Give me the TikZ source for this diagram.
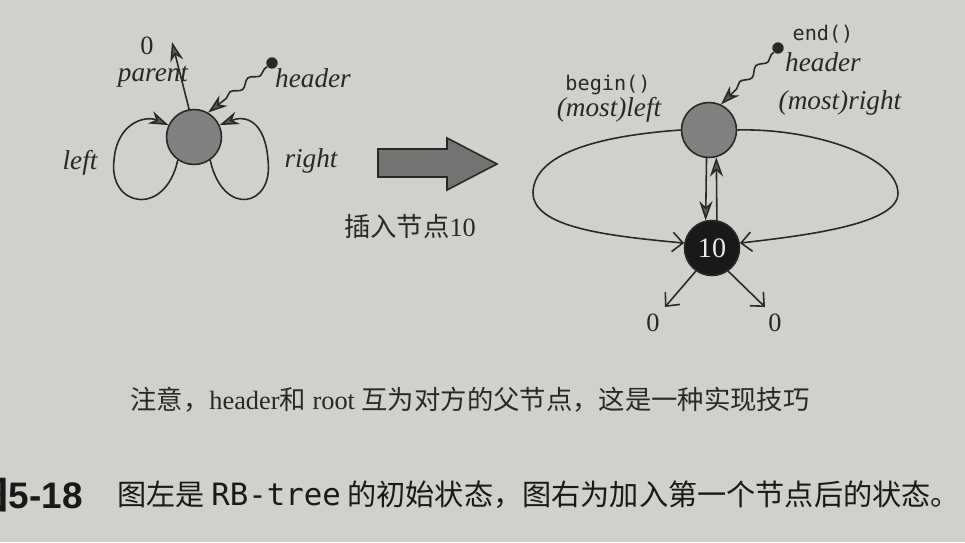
\documentclass[tikz,border=0pt]{standalone}
\usepackage{fontspec}
\setmainfont{Liberation Serif}
\newfontfamily\cjk{Noto Sans CJK SC}
\newfontfamily\codefont{DejaVu Sans Mono}
\newfontfamily\capfont{Liberation Sans}
\usetikzlibrary{arrows.meta,decorations.pathmorphing,calc}
\definecolor{paper}{RGB}{208,208,204}
\definecolor{ink}{RGB}{40,40,40}
\tikzstyle{hdrnode}=[circle,fill=black!50,draw=ink,line width=0.9pt,minimum size=1.1cm,inner sep=0pt]
\tikzstyle{keynode}=[circle,fill=black!90,draw=ink,line width=0.9pt,minimum size=1.1cm,inner sep=0pt,text=white!92!black,font=\fontsize{16}{18}\selectfont]
\tikzstyle{hdot}=[circle,fill=ink,minimum size=6.5pt,inner sep=0pt]
\tikzstyle{itlbl}=[font=\fontsize{15.5}{18}\selectfont\itshape,text=ink,inner sep=1pt]
\tikzstyle{codelbl}=[font=\fontsize{11.5}{14}\selectfont\codefont,text=ink,inner sep=1pt]
\tikzstyle{numlbl}=[font=\fontsize{15}{18}\selectfont,text=ink,inner sep=1pt]
\tikzstyle{link}=[draw=ink,line width=0.9pt,-{Stealth[length=11pt,width=7.5pt,inset=3.5pt,fill=black!65]}]
\tikzstyle{openlink}=[draw=ink,line width=0.9pt,-{Straight Barb[length=6pt,width=11pt]}]
\tikzstyle{squiggle}=[link,decorate,decoration={snake,amplitude=1.7pt,segment length=13pt,pre length=2pt,post length=11pt}]
\tikzstyle{bigarrow}=[fill=black!55,draw=ink,line width=0.9pt,line join=miter]
\begin{document}
\begin{tikzpicture}[x=0.02cm,y=-0.02cm]

   \fill[paper] (0,0) rectangle (965,542);
   \useasboundingbox (0,0) rectangle (965,542);

   % empty tree: header only
   \node[hdrnode] (hdrL) at (194,137) {};
   \node[hdot] (dotL) at (272,63) {};
   \node[numlbl] (zeroP) at (147,46) {0};
   \coordinate (parEnd) at (172,42);
   \draw[link] (hdrL.100) -- (parEnd);
   \draw[squiggle] (dotL) -- (hdrL.60);
   \draw[link] (hdrL.235) .. controls (165,218) and (108,207) .. (114,160) .. controls (117,123) and (145,115) .. (hdrL.155);
   \draw[link] (hdrL.305) .. controls (223,218) and (274,207) .. (268,160) .. controls (265,120) and (245,115) .. (hdrL.25);

   \foreach \pos/ \name / \label in {{(153,77)/parL/parent}, {(313,78)/headL/header}, {(80,163)/leftL/left}, {(311,161)/rightL/right}}
       \node[itlbl] (\name) at \pos {\label};

   % insert
   \draw[bigarrow] (378,149) -- (447,149) -- (447,138) -- (497,164) -- (447,190) -- (447,177) -- (378,177) -- cycle;
   \node[numlbl] (insL) at (410,226) {{\cjk 插入节点}10};

   % after first insert
   \node[hdrnode] (hdrR) at (709,130) {};
   \node[keynode] (n10) at (712,248) {10};
   \node[hdot] (dotR) at (778,48) {};
   \draw[squiggle] (dotR) -- (hdrR.65);
   \draw[link] (hdrR.265) -- (n10.103);
   \draw[link] (n10.80) -- (hdrR.285);
   \draw[openlink] (hdrR.180) .. controls (610,135) and (535,150) .. (533,192) .. controls (532,228) and (610,236) .. (n10.170);
   \draw[openlink] (hdrR.0) .. controls (810,128) and (897,155) .. (898,193) .. controls (899,225) and (800,236) .. (n10.10);
   \coordinate (kidL) at (665,307);
   \coordinate (kidR) at (765,307);
   \draw[openlink] (n10.235) -- (kidL);
   \draw[openlink] (n10.305) -- (kidR);
   \node[numlbl] (zeroL) at (653,323) {0};
   \node[numlbl] (zeroR) at (775,323) {0};

   \foreach \pos/ \name / \label in {{(823,62)/headR/header}, {(609,110)/mostL/(most)left}, {(840,103)/mostR/(most)right}}
       \node[itlbl] (\name) at \pos {\label};
   \foreach \pos/ \name / \label in {{(823,34)/endR/end()}, {(608,85)/beginR/begin()}}
       \node[codelbl] (\name) at \pos {\label};

   % notes
   \node[numlbl] (note) at (470,400) {{\cjk 注意，}header{\cjk 和} root {\cjk 互为对方的父节点，这是一种实现技巧}};
   \node[anchor=east,inner sep=0pt,text=black!90,font=\fontsize{21}{24}\selectfont\bfseries] (capNo) at (83,495) {{\cjk 图}{\capfont 5-18}};
   \node[anchor=west,inner sep=0pt,text=black!90,font=\fontsize{16.6}{20}\selectfont\cjk] (capTxt) at (117,495) {图左是 {\codefont\fontsize{17.5}{20}\selectfont RB-tree} 的初始状态，图右为加入第一个节点后的状态。};
\end{tikzpicture}
\end{document}
